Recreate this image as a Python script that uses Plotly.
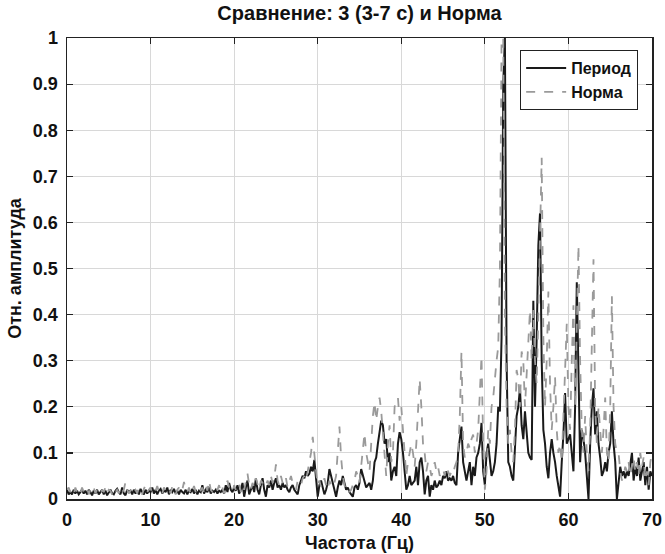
import numpy as np
import plotly.graph_objects as go

# Frequency grid (Hz), 0.2 Hz step
FREQ_STEP = 0.2
freq = np.round(np.arange(0, 70 + FREQ_STEP / 2, FREQ_STEP), 2)

# "Период" (solid black), one row = 2 Hz
period = [
    0.02, 0.01, 0.015, 0.01, 0.02, 0.012, 0.018, 0.01, 0.015, 0.02,      # 0-2
    0.012, 0.018, 0.01, 0.02, 0.015, 0.008, 0.018, 0.012, 0.02, 0.01,    # 2-4
    0.015, 0.02, 0.01, 0.018, 0.008, 0.015, 0.02, 0.012, 0.01, 0.018,    # 4-6
    0.022, 0.015, 0.01, 0.025, 0.012, 0.008, 0.02, 0.015, 0.018, 0.01,   # 6-8
    0.02, 0.012, 0.018, 0.01, 0.022, 0.015, 0.01, 0.02, 0.012, 0.018,    # 8-10
    0.015, 0.025, 0.012, 0.02, 0.01, 0.018, 0.022, 0.012, 0.02, 0.015,   # 10-12
    0.025, 0.01, 0.02, 0.015, 0.022, 0.012, 0.018, 0.01, 0.02, 0.015,    # 12-14
    0.012, 0.02, 0.01, 0.018, 0.015, 0.022, 0.012, 0.02, 0.01, 0.018,    # 14-16
    0.015, 0.03, 0.012, 0.02, 0.015, 0.025, 0.012, 0.018, 0.015, 0.02,   # 16-18
    0.012, 0.018, 0.015, 0.02, 0.012, 0.03, 0.015, 0.035, 0.02, 0.015,   # 18-20
    0.025, 0.018, 0.03, 0.012, 0.02, 0.035, 0.005, 0.025, 0.04, 0.01,    # 20-22
    0.02, 0.03, 0.015, 0.045, 0.02, 0.01, 0.03, 0.045, 0.02, 0.005,      # 22-24
    0.03, 0.025, 0.04, 0.02, 0.035, 0.045, 0.025, 0.03, 0.02, 0.035,     # 24-26
    0.025, 0.03, 0.02, 0.015, 0.025, 0.03, 0.02, 0.015, 0.01, 0.03,      # 26-28
    0.04, 0.05, 0.045, 0.06, 0.05, 0.055, 0.07, 0.06, 0.085, 0.05,       # 28-30
    0.005, 0.03, 0.04, 0.025, 0.01, 0.02, 0.035, 0.065, 0.05, 0.035,     # 30-32
    0.015, 0.005, 0.025, 0.04, 0.03, 0.05, 0.035, 0.02, 0.025, 0.015,    # 32-34
    0.01, 0.005, 0.025, 0.03, 0.02, 0.035, 0.065, 0.05, 0.04, 0.025,     # 34-36
    0.03, 0.035, 0.02, 0.04, 0.08, 0.09, 0.12, 0.15, 0.17, 0.16,         # 36-38
    0.12, 0.13, 0.08, 0.1, 0.04, 0.06, 0.07, 0.05, 0.12, 0.145,          # 38-40
    0.13, 0.1, 0.05, 0.02, 0.03, 0.05, 0.03, 0.035, 0.04, 0.07,          # 40-42
    0.03, 0.08, 0.09, 0.06, 0.01, 0.04, 0.05, 0.005, 0.03, 0.02,         # 42-44
    0.04, 0.025, 0.03, 0.04, 0.03, 0.05, 0.045, 0.06, 0.04, 0.045,       # 44-46
    0.04, 0.05, 0.035, 0.03, 0.1, 0.13, 0.157, 0.08, 0.06, 0.04,         # 46-48
    0.06, 0.08, 0.03, 0.07, 0.05, 0.09, 0.1, 0.12, 0.165, 0.06,          # 48-50
    0.03, 0.1, 0.12, 0.08, 0.05, 0.06, 0.08, 0.12, 0.2, 0.19,            # 50-52
    0.35, 0.9, 1.0, 0.3, 0.08, 0.07, 0.05, 0.04, 0.1, 0.18,              # 52-54
    0.2, 0.24, 0.16, 0.13, 0.19, 0.15, 0.1, 0.09, 0.085, 0.43,           # 54-56
    0.2, 0.35, 0.55, 0.62, 0.3, 0.15, 0.12, 0.07, 0.045, 0.1,            # 56-58
    0.13, 0.1, 0.08, 0.05, 0.03, 0.005, 0.08, 0.14, 0.23, 0.12,          # 58-60
    0.13, 0.14, 0.1, 0.06, 0.2, 0.47, 0.28, 0.08, 0.15, 0.13,            # 60-62
    0.1, 0.04, 0.0, 0.12, 0.2, 0.24, 0.14, 0.19, 0.12, 0.09,             # 62-64
    0.05, 0.06, 0.08, 0.06, 0.1, 0.12, 0.19, 0.12, 0.08, 0.0,            # 64-66
    0.04, 0.07, 0.05, 0.06, 0.045, 0.06, 0.05, 0.08, 0.1, 0.04,          # 66-68
    0.07, 0.05, 0.09, 0.04, 0.06, 0.08, 0.03, 0.07, 0.02, 0.06,          # 68-70
    0.05,                                                                # 70
]

# "Норма" (dashed gray), one row = 2 Hz
norma = [
    0.02, 0.025, 0.015, 0.02, 0.01, 0.025, 0.015, 0.02, 0.012, 0.025,    # 0-2
    0.015, 0.02, 0.025, 0.01, 0.02, 0.015, 0.025, 0.012, 0.02, 0.018,    # 2-4
    0.01, 0.02, 0.015, 0.025, 0.012, 0.02, 0.018, 0.01, 0.022, 0.015,    # 4-6
    0.02, 0.012, 0.025, 0.015, 0.02, 0.037, 0.02, 0.012, 0.018, 0.025,   # 6-8
    0.015, 0.02, 0.012, 0.025, 0.018, 0.01, 0.022, 0.03, 0.015, 0.02,    # 8-10
    0.025, 0.012, 0.02, 0.018, 0.028, 0.015, 0.02, 0.012, 0.025, 0.018,  # 10-12
    0.015, 0.022, 0.012, 0.028, 0.018, 0.01, 0.02, 0.025, 0.015, 0.02,   # 12-14
    0.037, 0.02, 0.015, 0.025, 0.01, 0.02, 0.028, 0.015, 0.02, 0.012,    # 14-16
    0.02, 0.025, 0.015, 0.03, 0.018, 0.04, 0.02, 0.015, 0.025, 0.018,    # 16-18
    0.02, 0.03, 0.015, 0.025, 0.012, 0.02, 0.04, 0.025, 0.02, 0.015,     # 18-20
    0.03, 0.02, 0.025, 0.035, 0.015, 0.03, 0.02, 0.04, 0.055, 0.03,      # 20-22
    0.02, 0.035, 0.025, 0.045, 0.03, 0.02, 0.04, 0.035, 0.025, 0.03,     # 22-24
    0.04, 0.03, 0.05, 0.035, 0.045, 0.075, 0.04, 0.03, 0.05, 0.035,      # 24-26
    0.03, 0.045, 0.025, 0.04, 0.05, 0.035, 0.03, 0.02, 0.04, 0.035,      # 26-28
    0.03, 0.045, 0.05, 0.04, 0.06, 0.08, 0.1, 0.135, 0.09, 0.06,         # 28-30
    0.03, 0.04, 0.025, 0.035, 0.045, 0.03, 0.02, 0.04, 0.03, 0.025,      # 30-32
    0.035, 0.05, 0.1, 0.157, 0.09, 0.05, 0.03, 0.02, 0.025, 0.015,       # 32-34
    0.02, 0.03, 0.04, 0.06, 0.05, 0.035, 0.07, 0.1, 0.143, 0.1,          # 34-36
    0.08, 0.06, 0.12, 0.18, 0.21, 0.17, 0.2, 0.22, 0.19, 0.14,           # 36-38
    0.1, 0.05, 0.12, 0.16, 0.08, 0.1, 0.2, 0.216, 0.22, 0.17,            # 38-40
    0.2, 0.15, 0.09, 0.05, 0.08, 0.1, 0.12, 0.1, 0.07, 0.12,             # 40-42
    0.2, 0.26, 0.2, 0.12, 0.1, 0.06, 0.08, 0.07, 0.05, 0.06,             # 42-44
    0.08, 0.06, 0.07, 0.05, 0.06, 0.065, 0.05, 0.07, 0.06, 0.05,         # 44-46
    0.06, 0.055, 0.07, 0.08, 0.1, 0.18, 0.32, 0.12, 0.09, 0.1,           # 46-48
    0.12, 0.11, 0.13, 0.14, 0.1, 0.12, 0.15, 0.22, 0.31, 0.12,           # 48-50
    0.02, 0.06, 0.15, 0.12, 0.2, 0.22, 0.27, 0.3, 0.33, 0.5,             # 50-52
    1.0, 1.0, 0.4, 0.2, 0.12, 0.15, 0.1, 0.08, 0.15, 0.28,               # 52-54
    0.26, 0.2, 0.32, 0.3, 0.2, 0.27, 0.37, 0.41, 0.3, 0.41,              # 54-56
    0.3, 0.25, 0.4, 0.6, 0.74, 0.35, 0.2, 0.3, 0.45, 0.25,               # 56-58
    0.15, 0.2, 0.265, 0.15, 0.1, 0.12, 0.08, 0.18, 0.28, 0.38,           # 58-60
    0.2, 0.15, 0.3, 0.42, 0.2, 0.4, 0.55, 0.3, 0.15, 0.1,                # 60-62
    0.18, 0.1, 0.06, 0.15, 0.35, 0.52, 0.2, 0.12, 0.2, 0.15,             # 62-64
    0.1, 0.15, 0.22, 0.1, 0.08, 0.2, 0.44, 0.2, 0.12, 0.1,               # 64-66
    0.1, 0.06, 0.04, 0.05, 0.07, 0.06, 0.08, 0.05, 0.07, 0.09,           # 66-68
    0.06, 0.08, 0.05, 0.1, 0.07, 0.09, 0.04, 0.06, 0.03, 0.08,           # 68-70
    0.1,                                                                 # 70
]

x_ticks = [0, 10, 20, 30, 40, 50, 60, 70]
y_ticks = [0, 0.1, 0.2, 0.3, 0.4, 0.5, 0.6, 0.7, 0.8, 0.9, 1]
y_tick_text = ["0", "0.1", "0.2", "0.3", "0.4", "0.5", "0.6", "0.7", "0.8", "0.9", "1"]

FONT = "Liberation Sans, Arial, sans-serif"
INK = "#111111"

fig = go.Figure()
fig.add_trace(go.Scatter(
    x=freq, y=period, mode="lines", name="<b>Период</b>",
    line=dict(color="#1a1a1a", width=2),
))
fig.add_trace(go.Scatter(
    x=freq, y=norma, mode="lines", name="<b>Норма</b>",
    line=dict(color="#9a9a9a", width=1.8, dash="dash"),
))

axis_common = dict(
    showline=True, linecolor="#222222", linewidth=1.5, mirror="ticks",
    ticks="inside", ticklen=6, tickwidth=1.2, tickcolor="#222222",
    showgrid=True, gridcolor="#d8d8d8", gridwidth=1,
    zeroline=False, automargin=False,
    tickfont=dict(family=FONT, size=18, color=INK, weight="bold"),
)

fig.update_layout(
    width=665, height=554,
    margin=dict(l=67, r=13, t=38, b=55),
    paper_bgcolor="white", plot_bgcolor="white",
    title=dict(
        text="<b>Сравнение: 3 (3-7 с) и Норма</b>",
        x=0.5, xref="paper", xanchor="center",
        y=1 - 13 / 554, yref="container", yanchor="middle",
        font=dict(family=FONT, size=20, color=INK),
    ),
    xaxis=dict(
        range=[0, 70], tickvals=x_ticks, ticklabelstandoff=4,
        title=dict(text="<b>Частота (Гц)</b>", standoff=7,
                   font=dict(family=FONT, size=18, color=INK)),
        **axis_common,
    ),
    yaxis=dict(
        range=[0, 1], tickvals=y_ticks, ticktext=y_tick_text, ticklabelstandoff=4,
        title=dict(text="<b>Отн. амплитуда</b>", standoff=6,
                   font=dict(family=FONT, size=18, color=INK)),
        **axis_common,
    ),
    legend=dict(
        x=0.976, y=0.974, xanchor="right", yanchor="top",
        bgcolor="white", bordercolor="#222222", borderwidth=1.2,
        font=dict(family=FONT, size=16, color=INK),
        tracegroupgap=0, itemwidth=40,
    ),
    showlegend=True,
    hovermode=False,
)

fig.write_html(
    "out.html",
    config={"displayModeBar": False, "staticPlot": True},
    post_script="document.body.style.margin='0';document.body.style.overflow='hidden';",
)
